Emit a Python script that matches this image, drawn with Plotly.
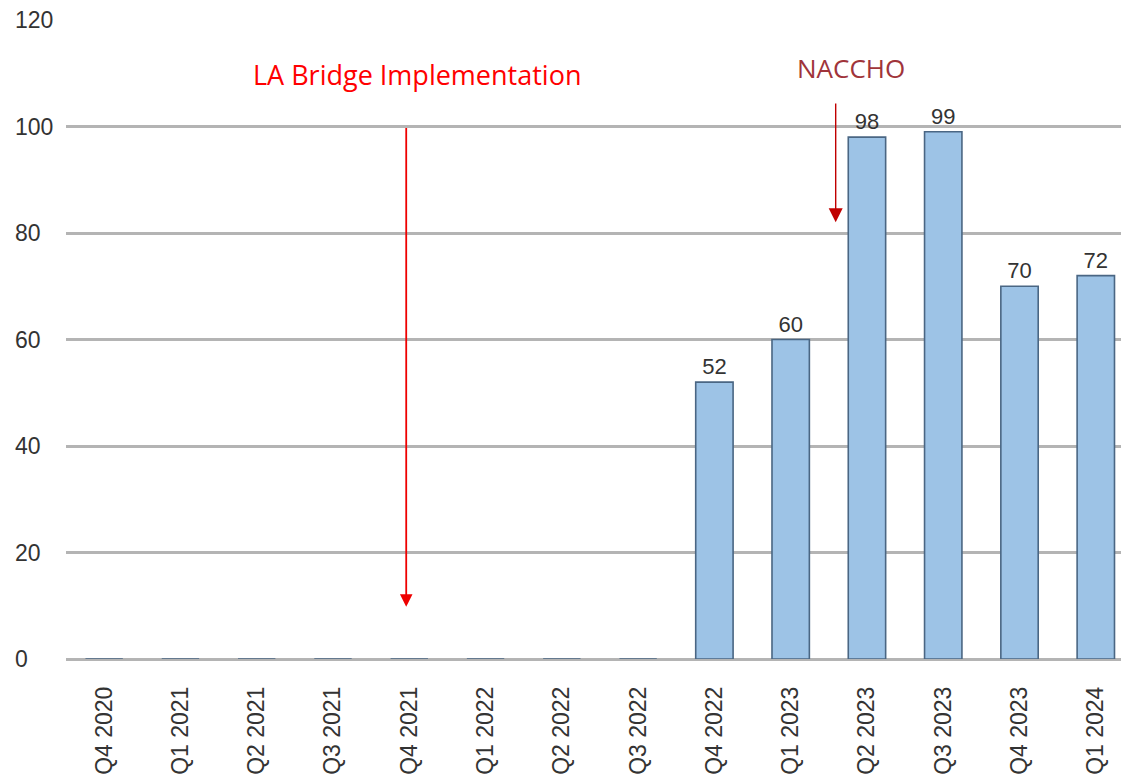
import plotly.graph_objects as go

quarters = [
    "Q4 2020", "Q1 2021", "Q2 2021", "Q3 2021", "Q4 2021", "Q1 2022", "Q2 2022",
    "Q3 2022", "Q4 2022", "Q1 2023", "Q2 2023", "Q3 2023", "Q4 2023", "Q1 2024",
]
counts = [0, 0, 0, 0, 0, 0, 0, 0, 52, 60, 98, 99, 70, 72]
labels = [str(v) if v else "" for v in counts]
y_ticks = [0, 20, 40, 60, 80, 100, 120]

fig = go.Figure()
fig.add_trace(go.Bar(
    x=list(range(len(quarters))),
    y=counts,
    text=labels,
    textposition="outside",
    textfont=dict(size=22, color="#333333", family="Liberation Sans, Arial"),
    cliponaxis=False,
    marker=dict(color="#9dc3e6", line=dict(color="#4a6683", width=1.6)),
    width=0.49,
))

# y tick labels are left-aligned in the original, so draw them as annotations
for t in y_ticks:
    fig.add_annotation(
        x=-0.0495, y=t, xref="paper", yref="y", xanchor="left", yanchor="middle",
        showarrow=False, text=str(t),
        font=dict(size=23, color="#333333", family="Liberation Sans, Arial"),
    )

# annotation arrows
fig.add_annotation(
    x=3.96, y=9.8, ax=3.96, ay=100, xref="x", yref="y", axref="x", ayref="y",
    showarrow=True, arrowhead=2, arrowsize=1.4, arrowwidth=1.8, arrowcolor="#ee0000", text="",
)
fig.add_annotation(
    x=4.1, y=109.7, xref="x", yref="y", showarrow=False,
    text="LA Bridge Implementation",
    font=dict(size=27, color="#ff0000", family="Open Sans, Liberation Sans"),
)
fig.add_annotation(
    x=9.59, y=82, ax=9.59, ay=104.6, xref="x", yref="y", axref="x", ayref="y",
    showarrow=True, arrowhead=2, arrowsize=2, arrowwidth=1.4, arrowcolor="#c00000", text="",
)
fig.add_annotation(
    x=9.79, y=111.0, xref="x", yref="y", showarrow=False,
    text="NACCHO",
    font=dict(size=26, color="#a0343a", family="Open Sans, Liberation Sans"),
)

fig.update_layout(
    width=1129, height=784,
    margin=dict(l=58, r=0, t=12, b=133),
    plot_bgcolor="white", paper_bgcolor="white",
    showlegend=False,
    font=dict(family="Liberation Sans, Arial", color="#333333"),
    xaxis=dict(
        range=[-0.5, 13.54],
        tickmode="array", tickvals=list(range(len(quarters))), ticktext=quarters,
        tickangle=-90, tickfont=dict(size=23, color="#333333"),
        showgrid=False, zeroline=False, showline=False, ticks="",
        ticklabelstandoff=22,
    ),
    yaxis=dict(
        range=[0, 120], tickvals=y_ticks, showticklabels=False,
        gridcolor="#b4b4b4", gridwidth=2.5, zeroline=True, zerolinecolor="#b4b4b4", zerolinewidth=2.5,
        showline=False, ticks="",
    ),
)

fig.write_html("out.html")
